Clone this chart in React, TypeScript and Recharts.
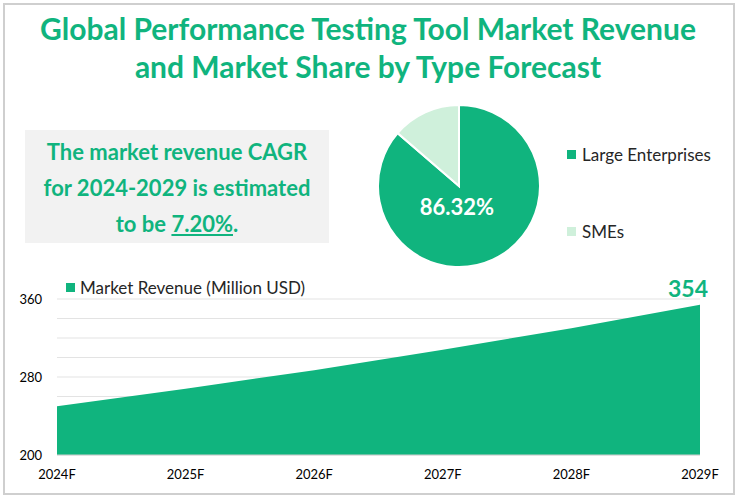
import { AreaChart, Area, XAxis, YAxis, CartesianGrid, PieChart, Pie, Cell, LabelList } from 'recharts';

const years = ['2024F', '2025F', '2026F', '2027F', '2028F', '2029F'];
const revenue = [250, 268, 287, 308, 330, 354];
const yTicks = [200, 220, 240, 260, 280, 300, 320, 340, 360];
const majorTicks = [200, 280, 360];

const shareNames = ['Large Enterprises', 'SMEs'];
const shareValues = [86.32, 13.68];

const GREEN = '#10B47E';
const LIGHT = '#CFF0DB';
const FONT = 'Lato, "Open Sans", sans-serif';

const areaData = years.map((y, i) => ({ year: y, revenue: revenue[i] }));
const pieData = shareNames.map((n, i) => ({ name: n, value: shareValues[i] }));
const pieColors = [GREEN, LIGHT];

function PieLabel(props: any) {
  if (props.index !== 0) return null;
  return (
    <text x={props.cx - 2} y={props.cy + 23} textAnchor="middle" dominantBaseline="middle"
      fill="#fff" fontSize={22} fontWeight={700} fontFamily={FONT}>
      {props.value.toFixed(2)}%
    </text>
  );
}

function LastLabel(props: any) {
  if (props.index !== revenue.length - 1) return null;
  return (
    <text x={props.x - 12} y={props.y - 8} textAnchor="middle" fill={GREEN}
      fontSize={23} fontWeight={700} fontFamily={FONT}>
      {props.value}
    </text>
  );
}

export default function App() {
  return (
    <div style={{ position: 'absolute', left: 0, top: 0, width: 736, height: 496, background: '#fff', fontFamily: FONT, overflow: 'hidden' }}>
      <div style={{ position: 'absolute', left: 3, top: 3, width: 728, height: 488, border: '2px solid #CFCFCF' }} />
      <div style={{ position: 'absolute', left: 0, top: 9, width: 736, textAlign: 'center', color: GREEN, fontWeight: 700, fontSize: 30, lineHeight: '38px' }}>
        Global Performance Testing Tool Market Revenue<br />and Market Share by Type Forecast
      </div>

      <div style={{ position: 'absolute', left: 25, top: 130, width: 304, height: 113, background: '#F2F2F2', color: GREEN, fontWeight: 700, fontSize: 22, lineHeight: '36px', textAlign: 'center', paddingTop: 4, boxSizing: 'border-box' }}>
        The market revenue CAGR<br />for 2024-2029 is estimated<br />to be <span style={{ textDecoration: 'underline' }}>7.20%</span>.
      </div>

      <div style={{ position: 'absolute', left: 354, top: 91 }}>
        <PieChart width={210} height={190}>
          <Pie data={pieData} dataKey="value" nameKey="name" cx={100} cy={90} outerRadius={81}
            startAngle={90} endAngle={-270} stroke="#fff" strokeWidth={2}
            isAnimationActive={false} label={PieLabel} labelLine={false}>
            {pieData.map((d, i) => <Cell key={d.name} fill={pieColors[i]} />)}
          </Pie>
        </PieChart>
      </div>

      {shareNames.map((n, i) => (
        <div key={n} style={{ position: 'absolute', left: 567, top: i === 0 ? 144 : 221, display: 'flex', alignItems: 'center', fontSize: 17, color: '#262626' }}>
          <span style={{ width: 9, height: 9, background: pieColors[i], marginRight: 6, display: 'inline-block' }} />
          {n}
        </div>
      ))}

      <div style={{ position: 'absolute', left: 0, top: 270 }}>
        <AreaChart width={736} height={226} data={areaData} margin={{ top: 29, right: 36, left: 17, bottom: 11 }}>
          <CartesianGrid vertical={false} stroke="#E3E3E3" />
          <XAxis dataKey="year" height={30} tickLine={false} axisLine={{ stroke: '#D0D0D0' }}
            tick={{ fontSize: 13, fill: '#000', fontFamily: FONT }} tickMargin={9} interval={0} />
          <YAxis domain={[200, 360]} ticks={yTicks} width={40} tickLine={false} axisLine={false}
            tick={{ fontSize: 13, fill: '#000', fontFamily: FONT }} tickMargin={9} interval={0}
            tickFormatter={(v) => (majorTicks.includes(v) ? String(v) : '')} />
          <Area type="linear" dataKey="revenue" fill={GREEN} fillOpacity={1} stroke="none" isAnimationActive={false}>
            <LabelList dataKey="revenue" content={LastLabel} />
          </Area>
        </AreaChart>
      </div>

      <div style={{ position: 'absolute', left: 66, top: 277, display: 'flex', alignItems: 'center', fontSize: 17, color: '#262626' }}>
        <span style={{ width: 9, height: 9, background: GREEN, marginRight: 5, display: 'inline-block' }} />
        Market Revenue (Million USD)
      </div>
    </div>
  );
}
